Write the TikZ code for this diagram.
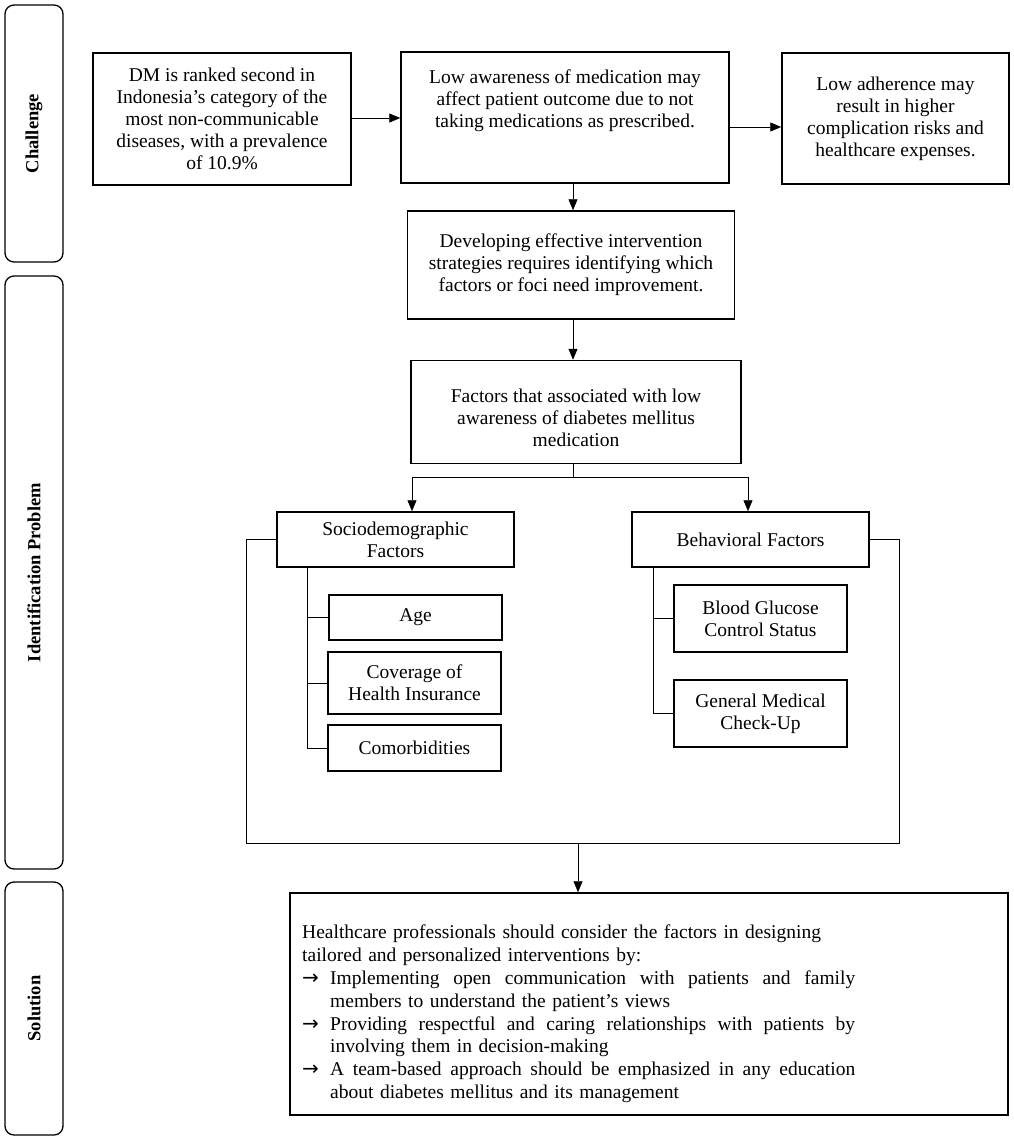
\documentclass[tikz,border=0pt]{standalone}
\usepackage{fontspec}
\setmainfont{Liberation Serif}
\newfontfamily\djv{DejaVu Sans}
\usetikzlibrary{arrows.meta}
\newcommand\bularrow{\makebox[28pt][l]{\hspace*{0pt}{\djv\fontsize{20}{20}\selectfont →}}}
\newcommand\jline[1]{\makebox[525pt][s]{\spaceskip=0.25em plus 1fil\relax #1}}
\begin{document}
\begin{tikzpicture}[x=1pt,y=-1pt,
  frame/.style={draw, line width=1.5pt, inner sep=0pt},
  box/.style={frame, align=center, font=\fontsize{19.5}{22}\selectfont},
  txt/.style={align=center, inner sep=0pt, font=\fontsize{19.5}{22}\selectfont},
  side/.style={draw, line width=1.3pt, rounded corners=9pt, inner sep=0pt, rotate=90, minimum height=58pt, font=\bfseries\fontsize{18.5}{20}\selectfont},
  conn/.style={line width=0.9pt},
  arr/.style={conn, -{Triangle[length=11pt,width=9pt]}},
  ]
\useasboundingbox (0,0) rectangle (1014,1140);

% side bars
\node[side, minimum width=257pt] (sc) at (34,133.5) {Challenge};
\node[side, minimum width=593pt] (si) at (34,572.5) {Identification Problem};
\node[side, minimum width=253pt] (ss) at (34,1008.5) {Solution};

% challenge row
\node[box, minimum width=258pt, minimum height=132pt] (dm) at (222,119)
  {DM is ranked second in\\Indonesia’s category of the\\most non-communicable\\diseases, with a prevalence\\of 10.9\%};
\node[frame, minimum width=328pt, minimum height=131pt] (la) at (565,117.5) {};
\node[txt] (lat) at (565,101) {Low awareness of medication may\\affect patient outcome due to not\\taking medications as prescribed.};
\node[box, minimum width=227pt, minimum height=131pt] (lad) at (895.5,118.5)
  {Low adherence may\\result in higher\\complication risks and\\healthcare expenses.};

\node[box, minimum width=327pt, minimum height=108pt] (dev) at (571,265)
  {Developing effective intervention\\strategies requires identifying which\\factors or foci need improvement.};
\node[frame, minimum width=330pt, minimum height=103pt] (fac) at (576,412) {};
\node[txt] (fact) at (576,418) {Factors that associated with low\\awareness of diabetes mellitus\\medication};

\node[box, minimum width=237pt, minimum height=55pt] (soc) at (395.5,539.5) {Sociodemographic\\Factors};
\node[box, minimum width=237pt, minimum height=55pt] (beh) at (750.5,539.5) {Behavioral Factors};

\node[box, minimum width=173pt, minimum height=45pt] (age) at (415.5,617.5) {Age};
\node[box, minimum width=173pt, minimum height=62pt] (cov) at (414.5,683) {Coverage of\\Health Insurance};
\node[box, minimum width=173pt, minimum height=46pt] (com) at (414.5,748) {Comorbidities};
\node[box, minimum width=173pt, minimum height=67pt] (bg) at (760.5,618.5) {Blood Glucose\\Control Status};
\node[box, minimum width=173pt, minimum height=67pt] (gm) at (760.5,713.5) {General Medical\\Check-Up};

% solution
\node[frame, minimum width=718pt, minimum height=222pt] (sol) at (649,1004) {};
\node[anchor=north west, inner sep=0pt, text width=700pt, align=left,
      font=\fontsize{19.5}{22.8}\selectfont] (solt) at (302,925)
  {Healthcare professionals should consider the factors in designing\\
   tailored and personalized interventions by:\\
   \bularrow\jline{Implementing open communication with patients and family}\\
   \hspace*{28pt}members to understand the patient’s views\\
   \bularrow\jline{Providing respectful and caring relationships with patients by}\\
   \hspace*{28pt}involving them in decision-making\\
   \bularrow\jline{A team-based approach should be emphasized in any education}\\
   \hspace*{28pt}about diabetes mellitus and its management};

% helper coordinates
\coordinate (ya) at (0,118);
\coordinate (yb) at (0,127);
\coordinate (xm) at (573,0);
\coordinate (br) at (573,477);
\coordinate (xl) at (412,0);
\coordinate (xr) at (748,0);
\coordinate (lb) at (246,843);
\coordinate (rb) at (899,843);
\coordinate (jn) at (578,843);
\coordinate (ts) at (307,0);
\coordinate (tb) at (653,0);

% connectors
\draw[arr] (dm.east |- ya) -- (la.west |- ya);
\draw[arr] (la.east |- yb) -- (lad.west |- yb);
\draw[arr] (la.south -| xm) -- (dev.north -| xm);
\draw[arr] (dev.south -| xm) -- (fac.north -| xm);
\draw[conn] (fac.south -| xm) -- (br);
\draw[arr] (br) -| (soc.north -| xl);
\draw[arr] (br) -| (beh.north -| xr);
\draw[conn] (soc.west) -| (lb) -- (rb) |- (beh.east);
\draw[arr] (jn) -- (sol.north -| jn);
\draw[conn] (soc.south -| ts) |- (com.west);
\draw[conn] (ts |- age.west) -- (age.west);
\draw[conn] (ts |- cov.west) -- (cov.west);
\draw[conn] (beh.south -| tb) |- (gm.west);
\draw[conn] (tb |- bg.west) -- (bg.west);
\end{tikzpicture}
\end{document}
